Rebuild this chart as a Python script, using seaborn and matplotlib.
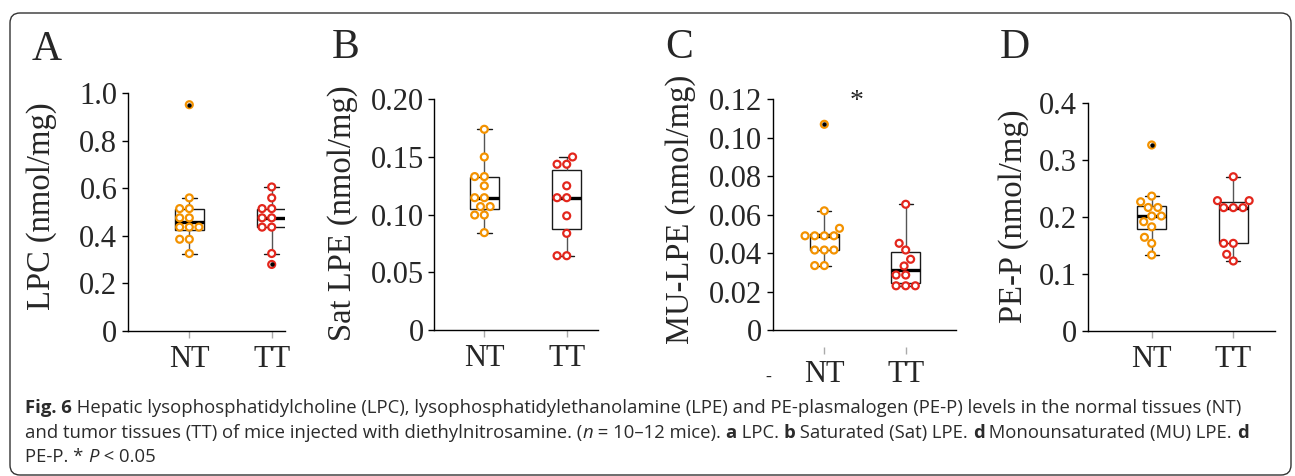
import matplotlib
matplotlib.use("Agg")
import matplotlib.pyplot as plt
import numpy as np
import pandas as pd
import seaborn as sns
from matplotlib.patches import FancyBboxPatch
from matplotlib.transforms import IdentityTransform

# values (nmol/mg), one entry per dot
groups = ["NT", "TT"]
lpc_nt = [0.952, 0.56, 0.515, 0.515, 0.476, 0.476, 0.437, 0.437, 0.437, 0.386, 0.386, 0.326]
lpc_tt = [0.606, 0.56, 0.515, 0.515, 0.476, 0.476, 0.437, 0.437, 0.326, 0.28]
sat_nt = [0.174, 0.150, 0.133, 0.133, 0.125, 0.1147, 0.1147, 0.107, 0.107, 0.0997, 0.0997, 0.0844]
sat_tt = [0.150, 0.1437, 0.1437, 0.125, 0.1147, 0.1147, 0.099, 0.0838, 0.0644, 0.0644]
mu_nt = [0.107, 0.062, 0.0529, 0.049, 0.049, 0.049, 0.049, 0.0416, 0.0416, 0.0416, 0.0335, 0.0335]
mu_tt = [0.0654, 0.0451, 0.0416, 0.0368, 0.0333, 0.0286, 0.0286, 0.023, 0.023, 0.023]
pep_nt = [0.3268, 0.237, 0.227, 0.217, 0.217, 0.202, 0.202, 0.192, 0.183, 0.1646, 0.154, 0.1335]
pep_tt = [0.271, 0.229, 0.229, 0.2167, 0.2167, 0.2167, 0.154, 0.154, 0.1347, 0.123]

panel_letters = ["A", "B", "C", "D"]
ylabels = ["LPC (nmol/mg)", "Sat LPE (nmol/mg)", "MU-LPE (nmol/mg)", "PE-P (nmol/mg)"]
ytops = [1.0, 0.20, 0.12, 0.4]
yticks = [
    [0, 0.2, 0.4, 0.6, 0.8, 1.0],
    [0, 0.05, 0.10, 0.15, 0.20],
    [0, 0.02, 0.04, 0.06, 0.08, 0.10, 0.12],
    [0, 0.1, 0.2, 0.3, 0.4],
]
yticklabels = [
    ["0", "0.2", "0.4", "0.6", "0.8", "1.0"],
    ["0", "0.05", "0.10", "0.15", "0.20"],
    ["0", "0.02", "0.04", "0.06", "0.08", "0.10", "0.12"],
    ["0", "0.1", "0.2", "0.3", "0.4"],
]
series = [(lpc_nt, lpc_tt), (sat_nt, sat_tt), (mu_nt, mu_tt), (pep_nt, pep_tt)]

caption = [
    [("Fig. 6", "bold", "normal"),
     (" Hepatic lysophosphatidylcholine (LPC), lysophosphatidylethanolamine (LPE) and PE-plasmalogen (PE-P) levels in the normal tissues (NT)", "normal", "normal")],
    [("and tumor tissues (TT) of mice injected with diethylnitrosamine. (", "normal", "normal"),
     ("n", "normal", "italic"),
     (" = 10–12 mice). ", "normal", "normal"),
     ("a", "bold", "normal"), (" LPC. ", "normal", "normal"),
     ("b", "bold", "normal"), (" Saturated (Sat) LPE. ", "normal", "normal"),
     ("d", "bold", "normal"), (" Monounsaturated (MU) LPE. ", "normal", "normal"),
     ("d", "bold", "normal")],
    [("PE-P. * ", "normal", "normal"), ("P", "normal", "italic"), (" < 0.05", "normal", "normal")],
]

palette = {"NT": "#F39200", "TT": "#E3261C"}

W, H = 1295, 476
sns.set_style("ticks")
plt.rcParams["font.family"] = ["Liberation Serif", "DejaVu Serif"]

fig = plt.figure(figsize=(W / 100, H / 100), dpi=100)

# axes boxes in pixels: left, right, top (at ytop), bottom (at 0)
boxes = [(127.7, 285, 93.3, 331), (434.3, 598.3, 99.3, 330),
         (772.7, 956, 99.3, 330), (1087.7, 1275, 103.3, 331)]
# category positions in pixels (NT, TT)
cats = [(189.3, 271.7), (484.3, 566.7), (824.3, 905.7), (1151.7, 1233.3)]
ylab_pos = [(42, 206), (343, 213), (681, 209), (1014, 216)]
letter_pos = [(32, 60), (332, 58), (665, 58), (1000, 58)]

for i in range(4):
    l, r, t, b = boxes[i]
    ax = fig.add_axes([l / W, (H - b) / H, (r - l) / W, (b - t) / H])
    nt, tt = series[i]
    df = pd.DataFrame({"group": ["NT"] * len(nt) + ["TT"] * len(tt),
                       "value": list(nt) + list(tt)})
    sns.boxplot(data=df, x="group", y="value", ax=ax, width=0.35, color="white",
                linecolor="#1a1a1a", linewidth=1.0, whis=2.0,
                medianprops=dict(linewidth=2.4, color="black"),
                whiskerprops=dict(color="#555555"),
                flierprops=dict(marker="o", markersize=2.2, markerfacecolor="black",
                                markeredgecolor="black"))
    sns.swarmplot(data=df, x="group", y="value", hue="group", palette=palette,
                  ax=ax, size=5, legend=False)
    for coll in ax.collections:
        fc = coll.get_facecolors()
        coll.set_edgecolors(fc)
        coll.set_facecolors("white")
        coll.set_linewidth(1.6)
        coll.set_zorder(3)
    for line in ax.lines:
        if line.get_marker() == "o":
            line.set_zorder(4)

    sp = cats[i][1] - cats[i][0]
    ax.set_xlim(-(cats[i][0] - l) / sp, 1 + (r - cats[i][1]) / sp)
    ax.set_ylim(0, ytops[i])
    ax.set_yticks(yticks[i], labels=yticklabels[i])
    ax.set_xlabel("")
    ax.set_ylabel("")
    sns.despine(ax=ax)
    for s in ["left", "bottom"]:
        ax.spines[s].set_linewidth(1.0)
        ax.spines[s].set_color("black")
    ax.tick_params(axis="y", direction="out", length=4.5, width=1.0, labelsize=22,
                   pad=3, color="black")
    if i == 2:
        ax.tick_params(axis="x", length=0, labelbottom=False)
        sec = ax.secondary_xaxis(-17 / (b - t))
        sec.set_xticks([0, 1], labels=groups)
        sec.spines["bottom"].set_visible(False)
        sec.tick_params(length=5, width=1, color="#aaaaaa", labelsize=22, pad=4)
        ax.text(0.4, 0.119, "*", ha="center", va="center", fontsize=20, clip_on=False)
    else:
        ax.set_xticks([0, 1], labels=groups)
        ax.tick_params(axis="x", direction="out", length=5, width=1, color="#aaaaaa",
                       labelsize=22, pad=5)

    fig.text(ylab_pos[i][0] / W, 1 - ylab_pos[i][1] / H, ylabels[i], rotation=90,
             ha="center", va="center", fontsize=23.5)
    fig.text(letter_pos[i][0] / W, 1 - letter_pos[i][1] / H, panel_letters[i],
             ha="left", va="baseline", fontsize=30)

fig.text(768 / W, 1 - 377 / H, "-", ha="center", va="center", fontsize=13)

# rounded frame round everything
frame = FancyBboxPatch((10, 1), 1281, 462, boxstyle="round,pad=0,rounding_size=10",
                       transform=IdentityTransform(), facecolor="none",
                       edgecolor="#333333", linewidth=1.0)
fig.patches.append(frame)

# caption, built piece by piece so bold / italic words sit inline
renderer = fig.canvas.get_renderer()
cap_size = 13.3
cap_font = ["Open Sans", "DejaVu Sans"]


def seg_width(s, weight, style):
    probe = fig.text(0, 0, "|" + s + "|", fontsize=cap_size, family=cap_font,
                     weight=weight, style=style)
    base = fig.text(0, 0, "||", fontsize=cap_size, family=cap_font,
                    weight=weight, style=style)
    w = probe.get_window_extent(renderer).width - base.get_window_extent(renderer).width
    probe.remove()
    base.remove()
    return w


baselines = [413.3, 438.3, 462.3]
for parts, yb in zip(caption, baselines):
    x = 25
    for s, weight, style in parts:
        fig.text(x, H - yb, s, transform=IdentityTransform(), ha="left", va="baseline",
                 fontsize=cap_size, family=cap_font, weight=weight, style=style,
                 color="#2b2b2b")
        x += seg_width(s, weight, style)

fig.savefig("out.png", dpi=100)
